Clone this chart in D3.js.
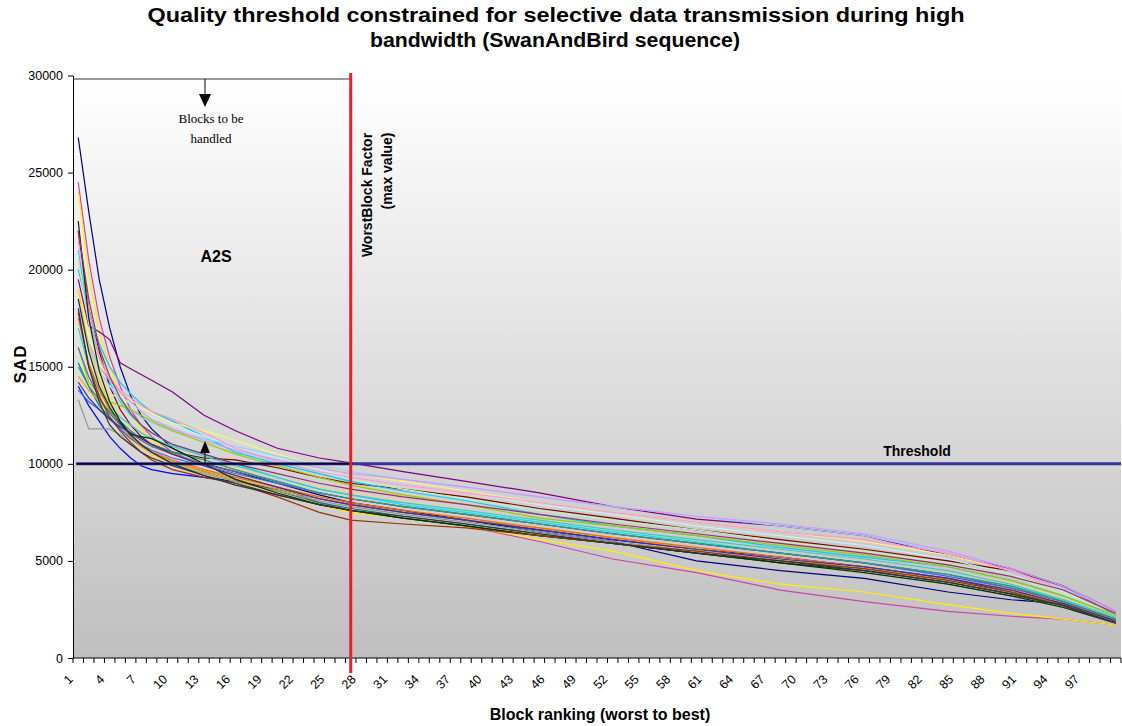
<!DOCTYPE html>
<html>
<head>
<meta charset="utf-8">
<script src="https://cdn.jsdelivr.net/npm/d3@7"></script>
<style>
  body { margin: 0; background: #fff; }
  text { font-family: Arial, "Liberation Sans", sans-serif; }
</style>
</head>
<body>
<script>
let width = 1122;
let height = 726;

// block ranks 1..100 on the category axis
let blocks = d3.range(1, 101);
let labelBlocks = blocks.filter(b => (b - 1) % 3 === 0 && b <= 97);
let yTicks = [0, 5000, 10000, 15000, 20000, 25000, 30000];

// SAD read at these ranks
let sampleBlocks = [1, 2, 3, 4, 5, 6, 7, 8, 10, 13, 16, 20, 24, 27, 32, 38, 45, 52, 60, 68, 76, 84, 90, 95, 100];

let run01 = [26800, 23000, 19500, 17000, 15000, 13500, 12500, 11800, 10800, 10000, 9600, 9000, 8400, 8000, 7600, 7100, 6500, 6000, 5000, 4500, 4100, 3400, 3000, 2800, 1900];
let run02 = [24500, 20500, 17500, 15500, 14000, 12800, 12000, 11400, 10600, 9900, 9400, 8800, 8000, 7600, 7200, 6800, 6000, 5100, 4400, 3500, 2900, 2400, 2150, 2000, 1700];
let run03 = [24000, 19800, 16800, 15000, 13600, 12600, 11800, 11200, 10500, 9900, 9500, 8800, 7900, 7500, 7200, 6800, 6100, 5500, 4500, 3800, 3400, 2750, 2300, 2000, 1700];
let run04 = [21000, 17500, 15500, 14200, 13200, 12500, 12000, 11600, 11000, 10500, 10000, 9300, 8700, 8400, 7900, 7500, 7000, 6500, 6000, 5400, 4900, 4300, 3700, 3000, 2200];
let run05 = [19500, 17100, 16800, 16400, 15200, 14900, 14600, 14300, 13700, 12500, 11700, 10800, 10300, 10050, 9600, 9100, 8500, 7800, 7150, 6800, 6300, 5300, 4600, 3700, 2200];
let run06 = [22000, 18000, 15800, 14000, 12800, 12000, 11400, 11000, 10600, 10300, 10200, 9800, 9300, 9000, 8700, 8300, 7700, 7200, 6600, 6100, 5600, 5000, 4500, 3700, 2400];
let run07 = [15200, 14000, 13000, 12400, 11800, 11300, 10900, 10600, 10100, 9600, 9200, 8600, 8000, 7700, 7300, 6900, 6400, 5900, 5400, 4900, 4500, 3900, 3300, 2700, 1900];
let run08 = [14000, 13000, 12200, 11400, 10800, 10300, 9900, 9700, 9500, 9300, 9100, 8700, 8200, 7900, 7500, 7100, 6600, 6100, 5600, 5200, 4700, 4100, 3400, 2800, 1900];
let run09 = [20000, 17800, 16200, 15000, 14200, 13600, 13100, 12700, 12200, 11400, 10600, 10000, 9500, 9100, 8600, 8100, 7400, 6800, 6300, 5700, 5200, 4700, 4000, 3200, 2200];
let run10 = [17500, 15600, 14600, 14000, 13500, 13100, 12700, 12400, 12000, 11400, 10900, 10300, 9700, 9300, 8900, 8500, 7900, 7400, 6800, 6300, 5800, 5100, 4300, 3400, 2300];
let run11 = [16500, 15000, 14000, 13600, 13400, 13100, 12900, 12700, 12400, 11800, 11200, 10400, 9600, 9200, 8700, 8200, 7600, 7100, 6600, 6000, 5500, 4900, 4200, 3300, 2200];
let run12 = [19000, 16500, 15200, 14400, 13800, 13300, 12900, 12600, 12100, 11700, 11200, 10500, 9900, 9500, 9100, 8600, 8000, 7500, 7000, 6500, 6000, 5300, 4500, 3500, 2300];
let run13 = [18500, 16000, 14800, 14000, 13300, 12800, 12400, 12100, 11700, 11300, 10900, 10400, 9900, 9600, 9200, 8800, 8300, 7800, 7300, 6800, 6300, 5400, 4500, 3600, 2400];
let run14 = [21500, 18000, 15500, 14400, 13800, 13400, 13000, 12700, 12300, 11600, 10800, 10100, 9600, 9300, 8900, 8500, 8000, 7500, 7000, 6500, 6100, 5400, 4500, 3500, 2300];
let run15 = [18000, 16200, 15000, 14300, 13700, 13200, 12700, 12300, 11800, 11200, 10700, 10200, 9800, 9500, 9200, 8800, 8300, 7800, 7300, 6900, 6400, 5500, 4600, 3700, 2400];
let run16 = [20500, 17200, 15000, 13500, 12500, 11800, 11200, 10800, 10400, 10100, 9800, 9300, 8800, 8500, 8100, 7600, 7100, 6600, 6100, 5600, 5100, 4500, 3900, 3100, 2100];
let run17 = [13800, 13200, 12800, 12300, 11800, 11300, 11000, 10700, 10300, 9900, 9500, 9000, 8500, 8200, 7800, 7400, 6900, 6400, 5900, 5400, 4900, 4200, 3600, 2900, 2000];
let run18 = [17000, 15000, 13800, 13000, 12400, 12000, 11600, 11300, 10900, 10400, 9900, 9300, 8700, 8400, 8000, 7600, 7100, 6600, 6100, 5600, 5100, 4500, 3800, 3000, 2100];
let run19 = [16000, 14200, 13600, 13200, 13000, 12800, 12500, 12200, 11700, 11100, 10500, 9900, 9300, 8900, 8400, 7900, 7200, 6800, 6300, 5800, 5300, 4700, 4000, 3200, 2200];
let run20 = [19000, 16000, 14300, 13000, 12100, 11400, 10900, 10500, 10000, 9500, 9100, 8500, 7900, 7600, 7200, 6800, 6300, 5900, 5400, 4900, 4500, 3900, 3300, 2700, 1800];
let run21 = [14500, 13800, 13200, 12600, 12000, 11500, 11000, 10600, 10100, 9600, 9200, 8700, 8200, 7900, 7500, 7100, 6700, 6200, 5600, 5100, 4600, 4000, 3400, 2800, 1900];
let run22 = [17500, 15200, 13800, 12800, 12000, 11400, 10900, 10600, 10200, 9700, 9300, 8800, 8300, 8000, 7600, 7200, 6700, 6200, 5700, 5200, 4700, 4100, 3500, 2800, 1900];
let run23 = [16000, 14500, 13400, 12600, 12000, 11600, 11200, 10900, 10500, 10000, 9600, 9100, 8500, 8200, 7800, 7400, 6900, 6400, 5900, 5400, 4900, 4300, 3600, 2900, 2000];
let run24 = [13300, 11800, 11800, 11800, 11500, 11000, 10600, 10300, 9900, 9500, 9100, 8600, 8100, 7800, 7400, 7000, 6500, 6000, 5500, 5000, 4600, 3800, 3200, 2600, 1900];
let run25 = [18500, 15800, 14000, 12900, 12100, 11500, 11000, 10600, 10000, 9400, 9000, 8400, 7900, 7600, 7200, 6800, 6300, 5900, 5400, 4900, 4500, 3900, 3300, 2700, 1800];
let run26 = [15000, 14000, 13300, 12700, 12200, 11700, 11300, 11000, 10600, 10200, 9700, 9100, 8500, 8200, 7800, 7400, 6900, 6400, 5900, 5400, 4900, 4300, 3700, 2900, 2000];
let run27 = [22500, 17500, 14800, 13200, 12200, 11500, 11400, 11300, 10800, 10000, 9200, 8500, 7900, 7600, 7200, 6800, 6300, 5900, 5400, 4900, 4400, 3800, 3200, 2600, 1800];
let run28 = [17800, 15000, 13500, 12400, 11700, 11100, 10600, 10200, 9700, 9300, 9000, 8300, 7500, 7100, 6900, 6700, 6300, 5900, 5500, 5000, 4600, 4000, 3400, 2700, 1800];
let run29 = [22000, 18500, 16000, 14500, 13400, 12600, 12000, 11600, 11000, 10500, 10000, 9500, 9000, 8700, 8300, 7900, 7400, 6900, 6400, 5900, 5400, 4800, 4200, 3500, 2300];
let run30 = [14200, 13400, 12800, 12300, 11900, 11600, 11300, 11000, 10500, 9900, 9400, 8800, 8200, 7900, 7500, 7100, 6600, 6100, 5600, 5100, 4700, 4100, 3500, 2800, 1900];
let run31 = [18000, 15000, 13200, 12000, 11400, 11000, 10600, 10300, 9900, 9400, 8900, 8400, 7900, 7600, 7300, 6900, 6400, 5900, 5400, 5000, 4500, 3900, 3300, 2700, 1800];

let runs = [run01, run02, run03, run04, run05, run06, run07, run08, run09, run10,
            run11, run12, run13, run14, run15, run16, run17, run18, run19, run20,
            run21, run22, run23, run24, run25, run26, run27, run28, run29, run30, run31];

let runColors = ["#000080", "#cc44aa", "#ffee00", "#00e5f0", "#800080", "#800000", "#008080", "#0000ff",
                 "#00ccff", "#c8f0f0", "#c0f0c0", "#fff080", "#99ccff", "#ff99cc", "#cc99ff", "#ffcc99",
                 "#3366ff", "#33cccc", "#99cc00", "#ffcc00", "#ff9900", "#ff6600", "#666699", "#969696",
                 "#003366", "#339966", "#003300", "#993300", "#993366", "#333399", "#333333"];

let thresholdValue = 10000;
let worstBlock = 27;

let svg = d3.select("body")
            .append("svg")
            .attr("width", width)
            .attr("height", height);

let plotLeft = 73, plotRight = 1121, plotTop = 75.5, plotBottom = 658;

let x = d3.scaleBand()
          .domain(blocks)
          .range([plotLeft, plotRight])
          .padding(0);

let y = d3.scaleLinear()
          .domain([0, 30000])
          .range([plotBottom, plotTop]);

let cx = b => x(b) + x.bandwidth() / 2;

// gradient plot area
let grad = svg.append("defs").append("linearGradient")
    .attr("id", "bg")
    .attr("x1", 0).attr("y1", 0)
    .attr("x2", 0).attr("y2", 1);
grad.append("stop").attr("offset", "0%").attr("stop-color", "#ffffff");
grad.append("stop").attr("offset", "100%").attr("stop-color", "#bfbfbf");

svg.append("rect")
    .attr("x", plotLeft)
    .attr("y", plotTop)
    .attr("width", plotRight - plotLeft)
    .attr("height", plotBottom - plotTop)
    .style("fill", "url(#bg)");

// series
let line = d3.line()
    .x((d, i) => cx(sampleBlocks[i]))
    .y(d => y(d));

svg.append("g")
    .selectAll("path")
    .data(runs)
    .join("path")
    .attr("d", d => line(d))
    .style("fill", "none")
    .style("stroke", (d, i) => runColors[i])
    .style("stroke-width", "1.2");

// y axis
let yAxis = svg.append("g")
    .attr("transform", `translate(${plotLeft},0)`)
    .call(d3.axisLeft(y).tickValues(yTicks).tickSize(5).tickSizeOuter(0).tickPadding(5).tickFormat(d3.format("d")));
yAxis.selectAll("text").style("font-size", "12.5px").style("fill", "#000");
yAxis.selectAll("line, path").style("stroke", "#000");

// x axis: ticks on category boundaries, labels every third block
let xAxis = svg.append("g")
    .attr("transform", `translate(0,${plotBottom})`);
xAxis.append("line")
    .attr("x1", plotLeft).attr("x2", plotRight)
    .attr("y1", 0).attr("y2", 0)
    .style("stroke", "#000");
xAxis.selectAll("line.tick")
    .data(blocks.concat([blocks.length + 1]))
    .join("line")
    .attr("class", "tick")
    .attr("x1", b => plotLeft + (b - 1) * x.bandwidth())
    .attr("x2", b => plotLeft + (b - 1) * x.bandwidth())
    .attr("y1", 0).attr("y2", 5)
    .style("stroke", "#000");
let xLabels = xAxis.selectAll("g.lbl")
    .data(labelBlocks)
    .join("g")
    .attr("class", "lbl")
    .attr("transform", b => `translate(${cx(b) - 4.5},22)`);
xLabels.append("text")
    .attr("transform", "rotate(-45)")
    .attr("text-anchor", "end")
    .style("font-size", "12.5px")
    .text(b => b);

// threshold
svg.append("line")
    .attr("x1", plotLeft + 3).attr("x2", plotRight)
    .attr("y1", y(thresholdValue)).attr("y2", y(thresholdValue))
    .style("stroke", "#333399")
    .style("stroke-width", "3");
svg.append("line")
    .attr("x1", plotLeft + 4).attr("x2", cx(worstBlock))
    .attr("y1", y(thresholdValue)).attr("y2", y(thresholdValue))
    .style("stroke", "#000")
    .style("stroke-width", "1.3");

// top bracket line and arrows
let arrowX = 205;
svg.append("line")
    .attr("x1", plotLeft).attr("x2", cx(worstBlock))
    .attr("y1", 79).attr("y2", 79)
    .style("stroke", "#333")
    .style("stroke-width", "1");
svg.append("line")
    .attr("x1", arrowX).attr("x2", arrowX)
    .attr("y1", 79).attr("y2", 96)
    .style("stroke", "#000");
svg.append("path")
    .attr("d", `M${arrowX - 6},94 L${arrowX + 6},94 L${arrowX},107 Z`)
    .style("fill", "#000");
svg.append("line")
    .attr("x1", arrowX).attr("x2", arrowX)
    .attr("y1", y(thresholdValue)).attr("y2", 452)
    .style("stroke", "#000");
svg.append("path")
    .attr("d", `M${arrowX - 5},453 L${arrowX + 5},453 L${arrowX},441 Z`)
    .style("fill", "#000");

// worst block marker
svg.append("line")
    .attr("x1", cx(worstBlock)).attr("x2", cx(worstBlock))
    .attr("y1", 73).attr("y2", 673)
    .style("stroke", "#ee1c24")
    .style("stroke-width", "3");

// annotations
svg.append("text")
    .attr("x", 211).attr("y", 123)
    .attr("text-anchor", "middle")
    .style("font-family", "'Liberation Serif', 'Times New Roman', serif")
    .style("font-size", "13px")
    .text("Blocks to be");
svg.append("text")
    .attr("x", 211).attr("y", 143)
    .attr("text-anchor", "middle")
    .style("font-family", "'Liberation Serif', 'Times New Roman', serif")
    .style("font-size", "13px")
    .text("handled");

svg.append("text")
    .attr("x", 216).attr("y", 262)
    .attr("text-anchor", "middle")
    .style("font-size", "16px")
    .style("font-weight", "bold")
    .text("A2S");

svg.append("text")
    .attr("transform", "translate(372,195) rotate(-90)")
    .attr("text-anchor", "middle")
    .style("font-size", "14px")
    .style("font-weight", "bold")
    .text("WorstBlock Factor");
svg.append("text")
    .attr("transform", "translate(392,171) rotate(-90)")
    .attr("text-anchor", "middle")
    .style("font-size", "14px")
    .style("font-weight", "bold")
    .text("(max value)");

svg.append("text")
    .attr("x", 917).attr("y", 456)
    .attr("text-anchor", "middle")
    .style("font-size", "14px")
    .style("font-weight", "bold")
    .text("Threshold");

// titles
svg.append("text")
    .attr("x", 556).attr("y", 22)
    .attr("text-anchor", "middle")
    .attr("textLength", 817)
    .attr("lengthAdjust", "spacingAndGlyphs")
    .style("font-size", "20px")
    .style("font-weight", "bold")
    .text("Quality threshold constrained for selective data transmission during high");
svg.append("text")
    .attr("x", 555).attr("y", 47)
    .attr("text-anchor", "middle")
    .attr("textLength", 370)
    .attr("lengthAdjust", "spacingAndGlyphs")
    .style("font-size", "20px")
    .style("font-weight", "bold")
    .text("bandwidth (SwanAndBird sequence)");

svg.append("text")
    .attr("x", 600).attr("y", 720)
    .attr("text-anchor", "middle")
    .style("font-size", "16px")
    .style("font-weight", "bold")
    .text("Block ranking (worst to best)");

svg.append("text")
    .attr("transform", "translate(26,364) rotate(-90)")
    .attr("text-anchor", "middle")
    .style("font-size", "17px")
    .style("font-weight", "bold")
    .style("letter-spacing", "1px")
    .text("SAD");
</script>
</body>
</html>
